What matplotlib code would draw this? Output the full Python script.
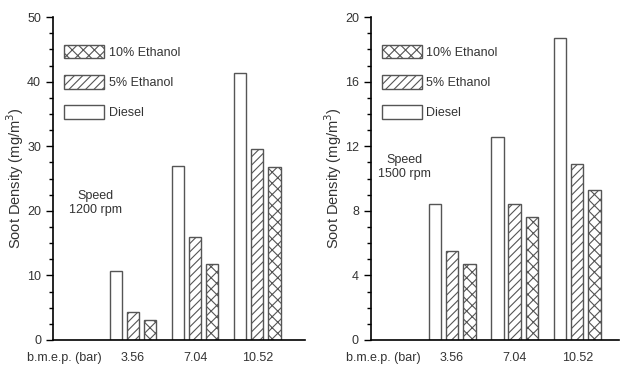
import matplotlib.pyplot as plt
import numpy as np
from matplotlib.ticker import MultipleLocator

plt.rcParams['font.family'] = ['Liberation Sans', 'DejaVu Sans']
plt.rcParams['hatch.color'] = '#444444'
plt.rcParams['hatch.linewidth'] = 0.8

bmep = ['3.56', '7.04', '10.52']
series = ['Diesel', '5% Ethanol', '10% Ethanol']
hatches = ['', '////', 'xxx']

soot_1200 = {'Diesel': [10.7, 26.9, 41.3],
             '5% Ethanol': [4.3, 16.0, 29.6],
             '10% Ethanol': [3.1, 11.8, 26.8]}
soot_1500 = {'Diesel': [8.4, 12.6, 18.7],
             '5% Ethanol': [5.5, 8.4, 10.9],
             '10% Ethanol': [4.7, 7.6, 9.3]}

fig = plt.figure(figsize=(6.21, 3.65), dpi=100)
ax1 = fig.add_axes([0.0853, 0.0685, 0.406, 0.8845])
ax2 = fig.add_axes([0.597, 0.0685, 0.400, 0.8845])

txt = '#333333'


def draw(ax, data, ymax, major, minor, speed, xlim, speed_pos):
    x = np.arange(1, len(bmep) + 1)
    handles = []
    for i, s in enumerate(series):
        b = ax.bar(x + (i - 1) * 0.275, data[s], width=0.2, color='white',
                   edgecolor='#555555', linewidth=1.0, hatch=hatches[i], label=s)
        handles.append(b)
    ax.set_xlim(*xlim)
    ax.set_ylim(0, ymax)
    ax.yaxis.set_major_locator(MultipleLocator(major))
    ax.yaxis.set_minor_locator(MultipleLocator(minor))
    ax.set_xticks([-0.1] + list(x))
    ax.set_xticklabels(['b.m.e.p. (bar)'] + bmep)
    ax.tick_params(axis='x', length=0, pad=9, labelsize=9, labelcolor=txt)
    ax.tick_params(axis='y', which='major', length=5, width=1, labelsize=9, labelcolor=txt)
    ax.tick_params(axis='y', which='minor', length=3, width=1)
    for sp in ['top', 'right']:
        ax.spines[sp].set_visible(False)
    ax.spines['left'].set_linewidth(1.2)
    ax.spines['bottom'].set_linewidth(1.2)
    ax.set_ylabel('Soot Density (mg/m$^3$)', fontsize=10.5, color=txt, labelpad=1)
    ax.text(speed_pos[0], speed_pos[1], 'Speed\n' + speed, transform=ax.transAxes,
            ha='center', va='center', fontsize=9, color=txt, linespacing=1.2)
    leg = ax.legend(handles[::-1], series[::-1], loc='upper left',
                    bbox_to_anchor=(0.025, 0.93), frameon=False, fontsize=9,
                    handlelength=3.2, handleheight=1.3, labelspacing=1.3,
                    handletextpad=0.35, borderaxespad=0)
    for t in leg.get_texts():
        t.set_color(txt)


draw(ax1, soot_1200, 50, 10, 2.5, '1200 rpm', (-0.29, 3.77), (0.17, 0.424))
draw(ax2, soot_1500, 20, 4, 1, '1500 rpm', (-0.3, 3.67), (0.137, 0.536))

fig.savefig('out.png', dpi=100)
